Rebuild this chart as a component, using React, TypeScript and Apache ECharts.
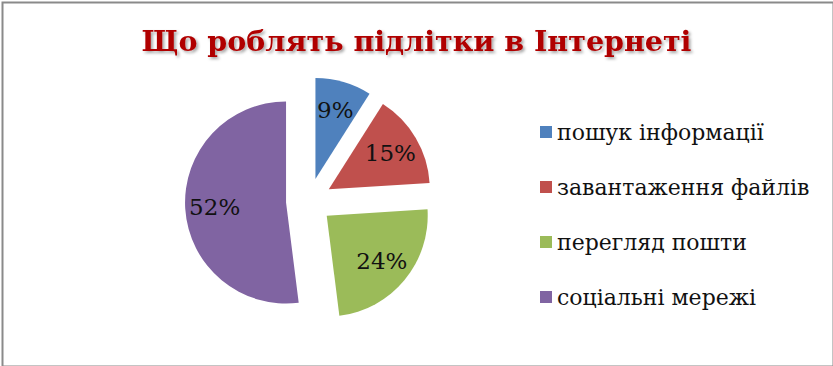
import React, { useEffect, useRef } from "react";
import * as echarts from "echarts";

const titleText = "Що роблять підлітки в Інтернеті";
const categories = ["пошук інформації", "завантаження файлів", "перегляд пошти", "соціальні мережі"];
const values = [9, 15, 24, 52];
const colors = ["#4F81BD", "#C0504D", "#9BBB59", "#8064A2"];

export default function App() {
  const ref = useRef<HTMLDivElement>(null);
  useEffect(() => {
    if (!ref.current) return;
    const chart = echarts.init(ref.current, undefined, { renderer: "svg" });
    const baseData = categories.map((name, i) => ({
      name,
      value: values[i],
      selected: true,
      itemStyle: { color: colors[i] },
    }));
    const labelData = categories.map((name, i) => ({
      name,
      value: values[i],
      selected: true,
      itemStyle: { color: "rgba(0,0,0,0)" },
    }));
    chart.setOption({
      animation: false,
      backgroundColor: "#ffffff",
      title: {
        text: titleText,
        left: "center",
        top: 21,
        textStyle: {
          fontFamily: "DejaVu Serif",
          fontWeight: "bold",
          fontSize: 28.5,
          color: "#B00000",
          textShadowColor: "rgba(0,0,0,0.35)",
          textShadowBlur: 3,
          textShadowOffsetX: 2,
          textShadowOffsetY: 2,
        },
      },
      legend: {
        orient: "vertical",
        left: 535,
        top: 116,
        itemWidth: 12,
        itemHeight: 12,
        itemGap: 33,
        icon: "rect",
        data: categories,
        textStyle: {
          fontFamily: "DejaVu Serif",
          fontSize: 22,
          color: "#111111",
          padding: [0, 0, 0, 0],
        },
      },
      graphic: [
        {
          type: "rect",
          left: 0,
          top: 0,
          shape: { width: 831, height: 364 },
          style: { fill: "none", stroke: "#8a8a8a", lineWidth: 2 },
          silent: true,
        },
      ],
      series: [
        {
          type: "pie",
          center: [309, 201],
          radius: [0, 101],
          startAngle: 90,
          clockwise: true,
          selectedMode: "multiple",
          selectedOffset: 23,
          label: { show: false },
          labelLine: { show: false },
          emphasis: { disabled: true },
          data: baseData,
        },
        {
          type: "pie",
          center: [309, 201],
          radius: [36, 101],
          startAngle: 90,
          clockwise: true,
          selectedMode: "multiple",
          selectedOffset: 23,
          silent: true,
          label: {
            show: true,
            position: "inside",
            formatter: "{c}%",
            fontFamily: "DejaVu Serif",
            fontSize: 23,
            color: "#111111",
          },
          labelLine: { show: false },
          emphasis: { disabled: true },
          data: labelData,
        },
      ],
    });
    return () => chart.dispose();
  }, []);
  return (
    <div
      ref={ref}
      style={{ position: "absolute", left: 0, top: 0, width: 833, height: 366 }}
    />
  );
}
